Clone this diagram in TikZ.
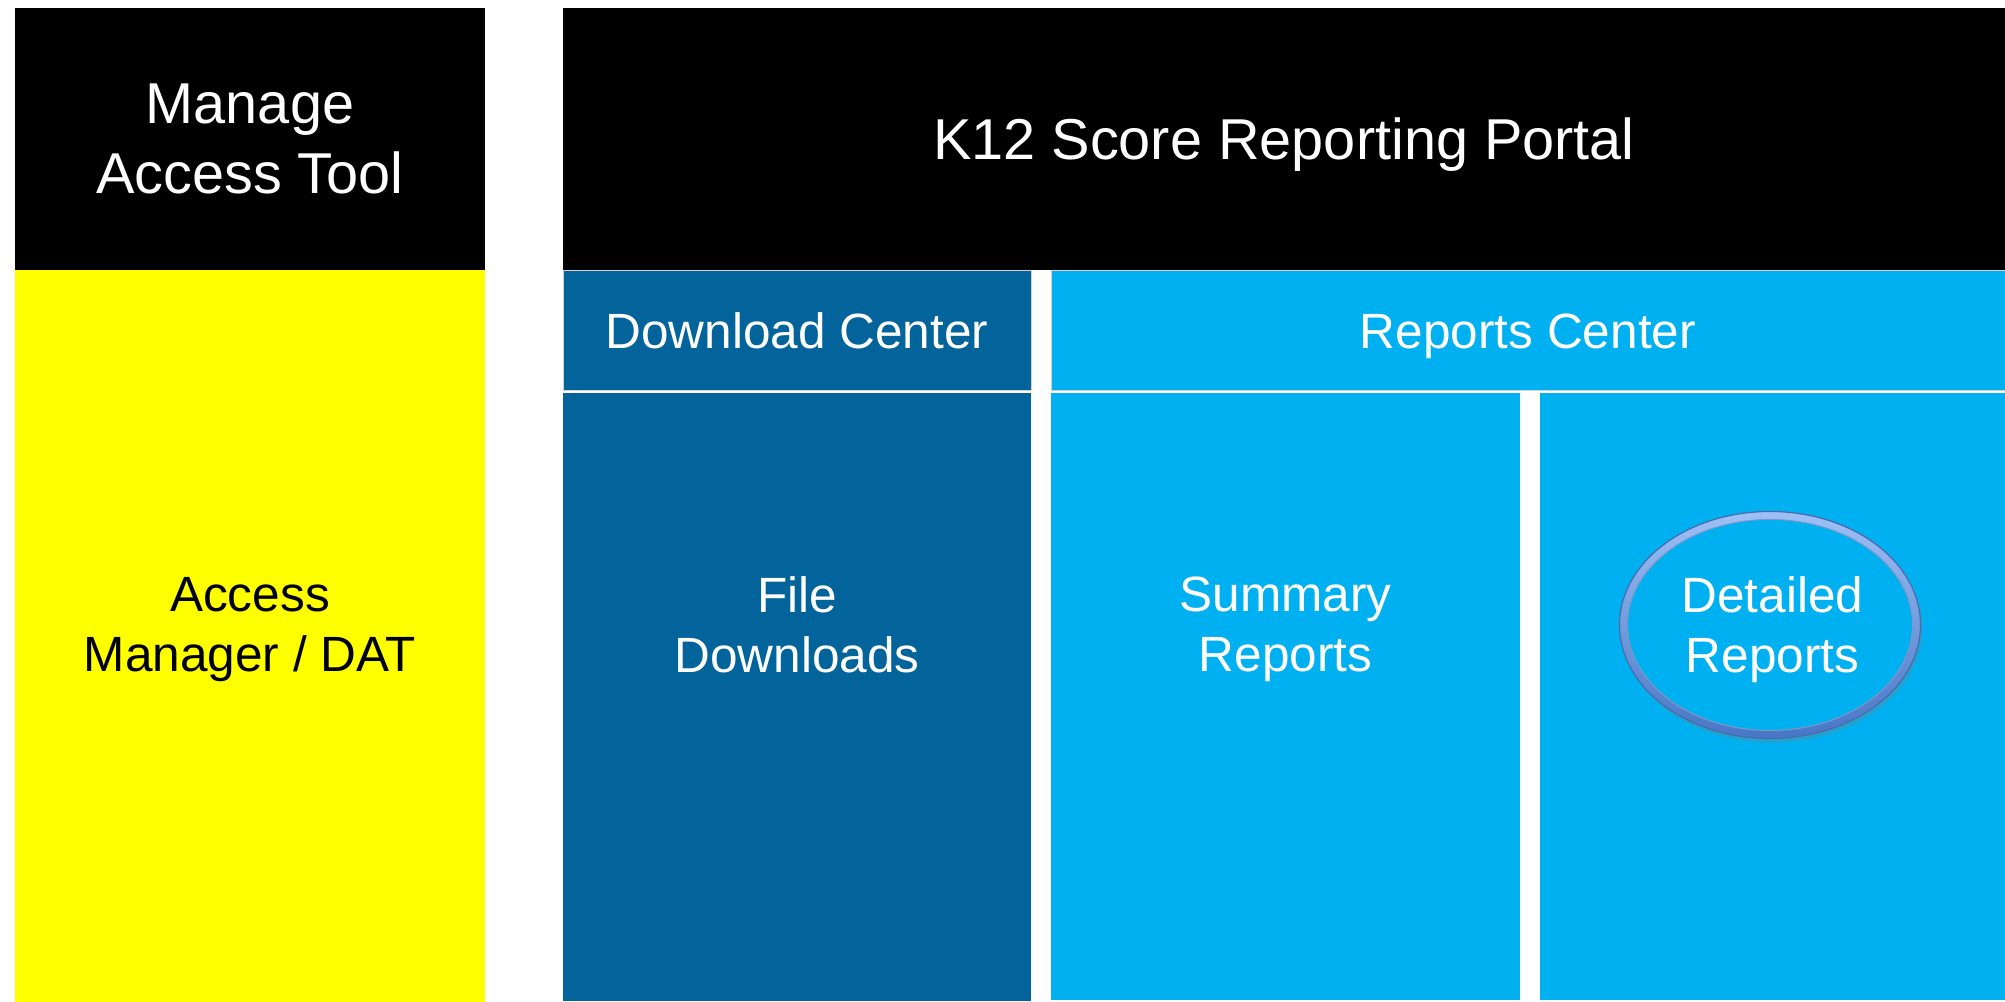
\documentclass[tikz,border=0pt]{standalone}
\usepackage{fontspec}
\setmainfont{Liberation Sans}
\usetikzlibrary{positioning, shapes.geometric, shadows}

\definecolor{toolyellow}{HTML}{FFFF00}
\definecolor{dlblue}{HTML}{03639B}
\definecolor{rpblue}{HTML}{00B0F0}
\definecolor{ringtop}{HTML}{9EC0F7}
\definecolor{ringbottom}{HTML}{4876C6}
\definecolor{ringedge}{HTML}{4A6AAA}

\begin{document}
\begin{tikzpicture}[
    bigfont/.style={font=\fontsize{16.4}{19.9}\selectfont},
    smallfont/.style={font=\fontsize{14.1}{17.1}\selectfont},
    block/.style={inner sep=0pt, outer sep=0pt, align=center, text depth=0pt},
    header/.style={block, smallfont, text=white, draw=gray!35, line width=0.01cm, minimum height=1.2cm},
    boxtext/.style={inner sep=0pt, outer sep=0pt, align=center, anchor=north, smallfont}]
    \path[use as bounding box, fill=white] (0,0) rectangle (20.05,10.02);

    % Left column - tool on top of the access manager
    \node[block, bigfont, fill=black, text=white, minimum width=4.7cm, minimum height=2.62cm,
          anchor=north west] (tool) at (0.15,9.94) {Manage\\Access Tool};
    \node[block, fill=toolyellow, minimum width=4.7cm, minimum height=7.32cm, below=0cm of tool] (dat) {};

    % Portal with its two centers
    \node[block, bigfont, fill=black, text=white, minimum width=14.42cm, minimum height=2.62cm,
          right=0.78cm of tool] (portal) {K12 Score Reporting Portal};
    \node[header, fill=dlblue, minimum width=4.68cm, below right=0.01cm and 0cm of portal.south west] (dlc) {Download Center};
    \node[block, fill=dlblue, minimum width=4.68cm, minimum height=6.08cm, below=0.02cm of dlc] (files) {};
    \node[header, fill=rpblue, minimum width=9.54cm, right=0.2cm of dlc] (rpc) {Reports Center};
    \node[block, fill=rpblue, minimum width=4.69cm, minimum height=6.07cm,
          below right=0.02cm and 0cm of rpc.south west] (summary) {};
    \node[block, fill=rpblue, minimum width=4.65cm, minimum height=6.07cm, right=0.2cm of summary] (detailed) {};

    % Highlight ring round the detailed reports
    \node[ellipse, inner sep=0pt, minimum width=3.01cm, minimum height=2.27cm, top color=ringtop, bottom color=ringbottom,
          draw=ringedge, line width=0.012cm,
          drop shadow={shadow xshift=0.02cm, shadow yshift=-0.04cm, opacity=0.3}] (ring) at (17.70,3.77) {};
    \node[ellipse, inner sep=0pt, minimum width=2.85cm, minimum height=2.11cm, fill=rpblue,
          draw=ringedge!70, line width=0.01cm] (ringhole) at (ring) {};

    % Labels of the lower boxes
    \coordinate (capline) at (0,4.25);
    \node[boxtext] (datText) at (dat |- capline) {Access\\Manager / DAT};
    \node[boxtext, text=white] (filesText) at (files |- capline) {File\\Downloads};
    \node[boxtext, text=white] (summaryText) at (summary |- capline) {Summary\\Reports};
    \node[boxtext, text=white] (detailedText) at (detailed |- capline) {Detailed\\Reports};
\end{tikzpicture}
\end{document}
